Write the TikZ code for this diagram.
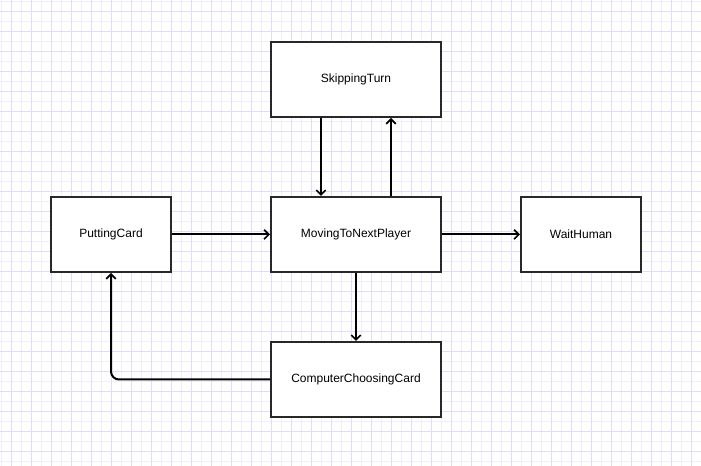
\documentclass[tikz,border=0pt]{standalone}
\usepackage{fontspec}
\setmainfont{Liberation Sans}
\usetikzlibrary{arrows.meta}
\definecolor{gridminor}{RGB}{238,238,252}
\definecolor{gridmajor}{RGB}{222,222,248}
\definecolor{boxline}{RGB}{40,40,40}
\tikzset{
  statebox/.style={draw=boxline, line width=1.5pt, fill=white, inner sep=0pt,
    minimum width=127.5pt, minimum height=56.25pt, font=\fontsize{9}{11}\selectfont},
  smallbox/.style={statebox, minimum width=90pt},
  arr/.style={draw=black, line width=1.5pt, -{Straight Barb[length=3.5pt,width=7pt,line width=1.3pt]}}
}
\begin{document}
\begin{tikzpicture}[x=0.75pt,y=-0.75pt]
\useasboundingbox (0,0) rectangle (701,466);
\fill[white] (0,0) rectangle (701,466);
\foreach \i in {0,...,70} {\draw[gridminor, line width=0.75pt] (1+10*\i,0) -- (1+10*\i,466);}
\foreach \i in {0,...,46} {\draw[gridminor, line width=0.75pt] (0,2+10*\i) -- (701,2+10*\i);}
\foreach \i in {0,...,34} {\draw[gridmajor, line width=0.75pt] (11+20*\i,0) -- (11+20*\i,466);}
\foreach \i in {0,...,22} {\draw[gridmajor, line width=0.75pt] (0,12+20*\i) -- (701,12+20*\i);}
\node[statebox] (skip) at (356,79.5) {SkippingTurn};
\node[smallbox] (put) at (111,234.5) {PuttingCard};
\node[statebox] (move) at (356,234.5) {MovingToNextPlayer};
\node[smallbox] (wait) at (581,234.5) {WaitHuman};
\node[statebox] (comp) at (356,379.5) {ComputerChoosingCard};
\draw[arr] ([xshift=-26.25pt]skip.south) -- ([xshift=-26.25pt]move.north);
\draw[arr] ([xshift=26.25pt]move.north) -- ([xshift=26.25pt]skip.south);
\draw[arr] (put.east) -- (move.west);
\draw[arr] (move.east) -- (wait.west);
\draw[arr] (move.south) -- (comp.north);
\draw[arr, rounded corners=6pt] (comp.west) -| (put.south);
\end{tikzpicture}
\end{document}
